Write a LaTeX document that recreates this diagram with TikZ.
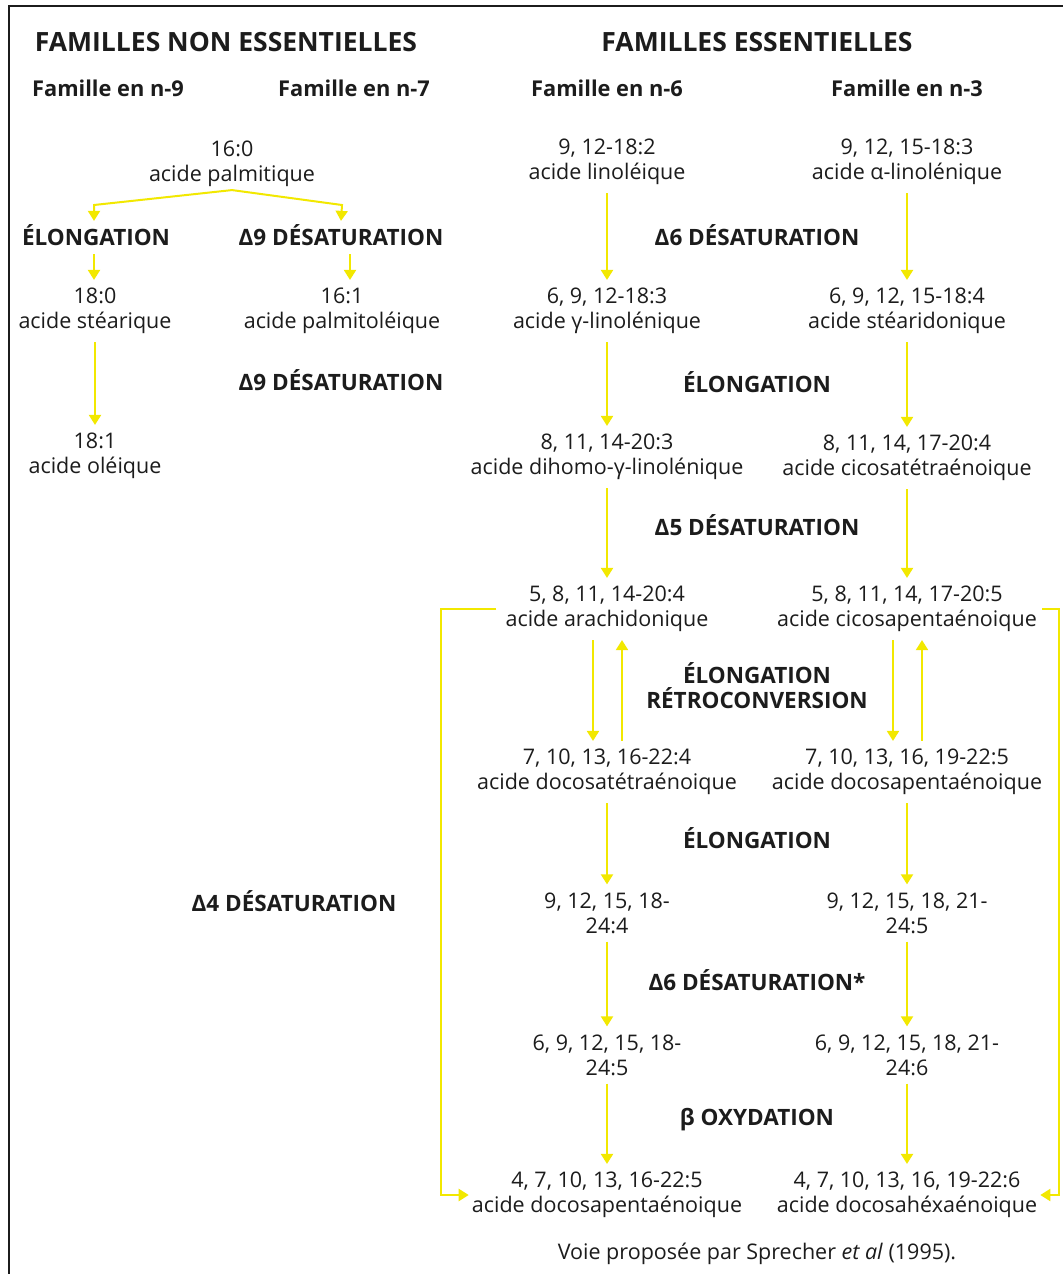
\documentclass[tikz,border=0pt]{standalone}
\usepackage{fontspec}
\setmainfont{Open Sans}
\usetikzlibrary{arrows.meta}
\definecolor{yel}{RGB}{242,232,0}
\definecolor{ink}{RGB}{28,28,28}
\begin{document}
\begin{tikzpicture}[x=1pt,y=-1pt,
  cmp/.style={align=center,font=\fontsize{21.5}{25}\selectfont,text=ink,inner sep=3pt,yshift=-3pt},
  lab/.style={font=\bfseries\fontsize{22.5}{25}\selectfont,text=ink,align=center},
  hd/.style={font=\bfseries\fontsize{26.5}{30}\selectfont,text=ink},
  fam/.style={font=\bfseries\fontsize{21.8}{24}\selectfont,text=ink},
  arr/.style={draw=yel,line width=2pt,-{Triangle[width=12pt,length=10pt]},shorten <=5pt,shorten >=5pt},
  barr/.style={draw=yel,line width=2pt,-{Triangle[width=12pt,length=10pt]}},
  ln/.style={draw=yel,line width=2pt}]
\useasboundingbox (0,0) rectangle (1063,1274);
\fill[white] (0,0) rectangle (1063,1274);
\draw[ink,line width=2pt] (9,1274) -- (9,6) -- (1063,6);

% headers
\node[hd] (h1) at (226,42) {FAMILLES NON ESSENTIELLES};
\node[hd] (h2) at (757,42) {FAMILLES ESSENTIELLES};
\node[fam] (f9) at (108,88) {Famille en n-9};
\node[fam] (f7) at (354,88) {Famille en n-7};
\node[fam] (f6) at (607,88) {Famille en n-6};
\node[fam] (f3) at (907,88) {Famille en n-3};

% non essential
\node[cmp] (palm) at (232,161) {16:0\\acide palmitique};
\node[lab] (el1) at (96,235) {ÉLONGATION};
\node[lab] (d9a) at (341,235) {Δ9 DÉSATURATION};
\node[cmp] (stea) at (95,308) {18:0\\acide stéarique};
\node[cmp] (pol) at (342,308) {16:1\\acide palmitoléique};
\node[lab] (d9b) at (341,380) {Δ9 DÉSATURATION};
\node[cmp] (ole) at (95,453) {18:1\\acide oléique};

\coordinate (sl) at (94,205);
\coordinate (sr) at (342,205);
\draw[barr] (palm.south) -- (sl) -- (sl |- el1.north);
\draw[barr] (palm.south) -- (sr) -- (d9a.north);
\draw[arr] ([xshift=-2pt]el1.south) -- ([xshift=-2pt]el1.south |- stea.north);
\draw[arr] ([xshift=9pt]d9a.south) -- ([xshift=9pt]d9a.south |- pol.north);
\draw[arr] (stea) -- (ole);

% n-6
\node[cmp] (lin) at (607,159) {9, 12-18:2\\acide linoléique};
\node[cmp] (gla) at (607,308) {6, 9, 12-18:3\\acide γ-linolénique};
\node[cmp] (dgla) at (607,454) {8, 11, 14-20:3\\acide dihomo-γ-linolénique};
\node[cmp] (ara) at (607,606) {5, 8, 11, 14-20:4\\acide arachidonique};
\node[cmp] (dta) at (607,769) {7, 10, 13, 16-22:4\\acide docosatétraénoique};
\node[cmp] (c244) at (607,910) {9, 12, 15, 18-\\24:4};
\node[cmp] (c245) at (607,1052) {6, 9, 12, 15, 18-\\24:5};
\node[cmp] (dpa) at (607,1192) {4, 7, 10, 13, 16-22:5\\acide docosapentaénoique};

% n-3
\node[cmp] (ala) at (907,159) {9, 12, 15-18:3\\acide α-linolénique};
\node[cmp] (sda) at (907,308) {6, 9, 12, 15-18:4\\acide stéaridonique};
\node[cmp] (eta) at (907,455) {8, 11, 14, 17-20:4\\acide cicosatétraénoique};
\node[cmp] (epa) at (907,606) {5, 8, 11, 14, 17-20:5\\acide cicosapentaénoique};
\node[cmp] (dpb) at (907,769) {7, 10, 13, 16, 19-22:5\\acide docosapentaénoique};
\node[cmp] (d245) at (907,910) {9, 12, 15, 18, 21-\\24:5};
\node[cmp] (d246) at (907,1052) {6, 9, 12, 15, 18, 21-\\24:6};
\node[cmp] (dha) at (907,1192) {4, 7, 10, 13, 16, 19-22:6\\acide docosahéxaénoique};

% step labels
\node[lab] (s1) at (757,235) {Δ6 DÉSATURATION};
\node[lab] (s2) at (757,382) {ÉLONGATION};
\node[lab] (s3) at (757,525) {Δ5 DÉSATURATION};
\node[lab] (s4) at (757,686) {ÉLONGATION\\RÉTROCONVERSION};
\node[lab] (s5) at (757,838) {ÉLONGATION};
\node[lab] (s6) at (757,980) {Δ6 DÉSATURATION*};
\node[lab] (s7) at (757,1120) {β OXYDATION};
\node[lab] (s8) at (294,901) {Δ4 DÉSATURATION};

% vertical arrows
\foreach \a/\b in {lin/gla,gla/dgla,dgla/ara,dta/c244,c244/c245,c245/dpa,
                   ala/sda,sda/eta,eta/epa,dpb/d245,d245/d246,d246/dha}
  \draw[arr] (\a) -- (\b);

% double arrows
\draw[arr] ([xshift=-14pt]ara.south) -- ([xshift=-14pt]ara.south |- dta.north);
\draw[arr] ([xshift=15pt]dta.north) -- ([xshift=15pt]dta.north |- ara.south);
\draw[arr] ([xshift=-14pt]epa.south) -- ([xshift=-14pt]epa.south |- dpb.north);
\draw[arr] ([xshift=15pt]dpb.north) -- ([xshift=15pt]dpb.north |- epa.south);

% brackets
\coordinate (Lx) at (441,0);
\coordinate (Rx) at (1059,0);
\draw[barr] ([xshift=-6pt]ara.west) -- (ara.west -| Lx) -- (dpa.west -| Lx) -- (dpa.west);
\draw[barr] ([xshift=2pt]epa.east) -- (epa.east -| Rx) -- (dha.east -| Rx) -- (dha.east);

% caption
\node[cmp] (cap) at (757,1251) {Voie proposée par Sprecher \textit{et al} (1995).};
\end{tikzpicture}
\end{document}
